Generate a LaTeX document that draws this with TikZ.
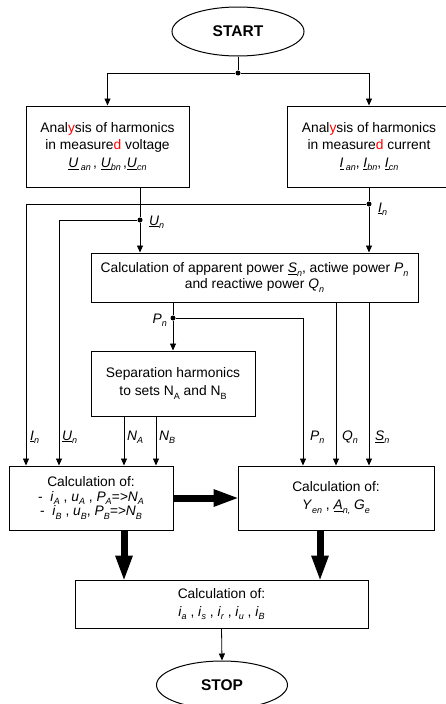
\documentclass[tikz,border=0pt]{standalone}
\usepackage{fontspec}
\setmainfont{Liberation Sans}
\usetikzlibrary{shapes.geometric,arrows.meta}
\newcommand\sbs[1]{\raisebox{-0.45ex}{\fontsize{9}{9}\selectfont\itshape #1}}
\newcommand\sbu[1]{\raisebox{-0.45ex}{\fontsize{9}{9}\selectfont #1}}
\newcommand\ulv[1]{\underline{\textit{#1}}}
\begin{document}
\begin{tikzpicture}[x=1pt,y=-1pt,
 box/.style={draw,line width=1pt,rectangle,align=center,inner sep=0pt},
 term/.style={draw,line width=1pt,ellipse,inner sep=0pt,font=\fontsize{15.5}{17}\selectfont\bfseries},
 conn/.style={line width=0.8pt},
 arr/.style={conn,-{Triangle[length=7pt,width=6pt]}},
 fat/.style={line width=7pt,-{Triangle[length=24pt,width=18pt,line width=0pt]}},
 dot/.style={circle,fill,inner sep=0pt,minimum size=5pt},
 lab/.style={font=\fontsize{13.8}{15}\selectfont\itshape,inner sep=0pt}]
\useasboundingbox (0,0) rectangle (446,704);
\clip (0,0) rectangle (446,704);

% terminals
\node[term,minimum width=132pt,minimum height=49pt] (start) at (238,31.5) {START};
\node[term,minimum width=131pt,minimum height=48pt] (stop) at (222,685) {STOP};

% boxes
\node[box,minimum width=163pt,minimum height=81pt,font=\fontsize{13.8}{17.5}\selectfont] (volt) at (107.5,146.5)
 {Anal\textcolor{red}{y}sis of harmonics\\in measure\textcolor{red}{d} voltage\\\ulv{U}\,\sbs{an}\,, \ulv{U}\sbs{bn}\,,\ulv{U}\sbs{cn}};
\node[box,minimum width=164pt,minimum height=81pt,font=\fontsize{13.8}{17.5}\selectfont] (curr) at (369,146.5)
 {Anal\textcolor{red}{y}sis of harmonics\\in measure\textcolor{red}{d} current\\\ulv{I}\,\sbs{an}, \ulv{I}\sbs{bn}, \ulv{I}\sbs{cn}};
\node[box,minimum width=327pt,minimum height=49pt,font=\fontsize{13.8}{16}\selectfont] (power) at (254.5,277.5)
 {Calculation of apparent power \ulv{S}\sbs{n}, actiwe power \textit{P}\sbs{n}\\and reactiwe power \textit{Q}\sbs{n}};
\node[box,minimum width=164pt,minimum height=65pt,font=\fontsize{13.8}{18}\selectfont] (sep) at (173,383.5)
 {Separation harmonics\\to sets N\sbu{A} and N\sbu{B}};
\node[box,minimum width=164pt,minimum height=64pt,font=\fontsize{13.8}{14.5}\selectfont] (calcA) at (91,498)
 {Calculation of:\\-\ \ \textit{i}\sbs{A} , \textit{u}\sbs{A} , \textit{P}\sbs{A}\textit{=>N}\sbs{A}\\-\ \ \textit{i}\sbs{B} , \textit{u}\sbs{B}, \textit{P}\sbs{B}\textit{=>N}\sbs{B}};
\node[box,minimum width=196pt,minimum height=64pt,font=\fontsize{13.8}{18}\selectfont] (calcB) at (336,498)
 {Calculation of:\\\textit{Y}\sbs{en} , \ulv{A}\sbs{n,} \textit{G}\sbs{e}};
\node[box,minimum width=293pt,minimum height=48pt,font=\fontsize{13.8}{18}\selectfont] (final) at (221.5,604)
 {Calculation of:\\\textit{i}\sbs{a} , \textit{i}\sbs{s} , \textit{i}\sbs{r} , \textit{i}\sbs{u} , \textit{i}\sbs{B}};

% branch points
\node[dot] (j1) at (238,73) {};
\node[dot] (u1) at (140,220) {};
\node[dot] (i1) at (369,204) {};
\node[dot] (p1) at (173,318) {};
\coordinate (xI) at (26,0);
\coordinate (xU) at (59,0);
\coordinate (xNA) at (124,0);
\coordinate (xNB) at (156,0);
\coordinate (xP) at (303,0);
\coordinate (xQ) at (336,0);
\coordinate (xS) at (369,0);
\coordinate (xL) at (124,0);
\coordinate (xR) at (320,0);

% connectors
\draw[conn] (start) -- (j1);
\draw[arr] (j1) -| (volt.north);
\draw[arr] (j1) -| (curr.north);
\draw[conn] (volt.south -| u1) -- (u1);
\draw[arr] (u1) -- (power.north -| u1);
\draw[arr] (u1) -| (calcA.north -| xU);
\draw[conn] (curr.south) -- (i1);
\draw[arr] (i1) -- (power.north -| i1);
\draw[arr] (i1) -| (calcA.north -| xI);
\draw[conn] (power.south -| p1) -- (p1);
\draw[arr] (p1) -- (sep.north);
\draw[arr] (p1) -| (calcB.north -| xP);
\draw[arr] (power.south -| xQ) -- (calcB.north -| xQ);
\draw[arr] (power.south -| xS) -- (calcB.north -| xS);
\draw[arr] (sep.south -| xNA) -- (calcA.north -| xNA);
\draw[arr] (sep.south -| xNB) -- (calcA.north -| xNB);
\draw[fat] (calcA.east) -- (calcB.west);
\draw[fat] (calcA.south -| xL) -- (final.north -| xL);
\draw[fat] (calcB.south -| xR) -- (final.north -| xR);
\draw[arr] (final.south) -- (stop.north);

% labels
\node[lab,anchor=west] (lIn1) at (378,209) {\ulv{I}\sbs{n}};
\node[lab,anchor=west] (lUn1) at (149,222) {\ulv{U}\sbs{n}};
\node[lab,anchor=east] (lPn1) at (167,320) {\textit{P}\sbs{n}};
\node[lab,anchor=west] (lIn2) at (30,437) {\ulv{I}\sbs{n}};
\node[lab,anchor=west] (lUn2) at (62,437) {\ulv{U}\sbs{n}};
\node[lab,anchor=west] (lNA) at (127,437) {\textit{N}\sbs{A}};
\node[lab,anchor=west] (lNB) at (159,437) {\textit{N}\sbs{B}};
\node[lab,anchor=west] (lPn2) at (310,437) {\textit{P}\sbs{n}};
\node[lab,anchor=west] (lQn) at (342,437) {\textit{Q}\sbs{n}};
\node[lab,anchor=west] (lSn) at (375,437) {\ulv{S}\sbs{n}};
\end{tikzpicture}
\end{document}
